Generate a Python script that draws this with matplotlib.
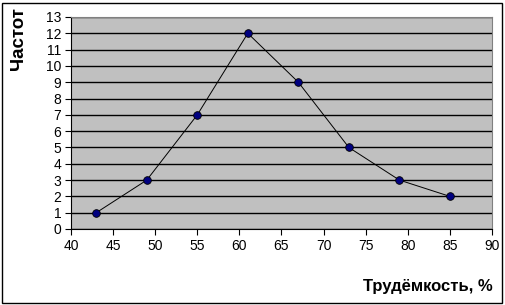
import matplotlib
matplotlib.use('Agg')
import matplotlib.pyplot as plt
from matplotlib.patches import Rectangle

# data
labour = [43, 49, 55, 61, 67, 73, 79, 85]
freq = [1, 3, 7, 12, 9, 5, 3, 2]
x_ticks = [40, 45, 50, 55, 60, 65, 70, 75, 80, 85, 90]
y_ticks = list(range(0, 14))

plt.rcParams['font.family'] = ['Liberation Sans', 'DejaVu Sans']

fig = plt.figure(figsize=(5.05, 3.05), dpi=100)
ax = fig.add_axes([71 / 505, 1 - 229 / 305, (492 - 71) / 505, (229 - 17) / 305])
ax.set_facecolor('#c0c0c0')

ax.plot(labour, freq, color='black', linewidth=0.7, marker='o', markersize=5.5,
        markerfacecolor='#000080', markeredgecolor='black', markeredgewidth=0.6, zorder=3)

ax.set_xlim(40, 90)
ax.set_ylim(0, 13)
ax.set_xticks(x_ticks)
ax.set_yticks(y_ticks)
ax.yaxis.grid(True, color='black', linewidth=1)
ax.set_axisbelow(True)
ax.tick_params(labelsize=10, length=4, width=0.8, color='black', pad=3)

for side in ['top', 'right']:
    ax.spines[side].set_color('#808080')
for side in ['left', 'bottom']:
    ax.spines[side].set_color('black')

# outer chart border
fig.patches.append(Rectangle((2 / 505, 2 / 305), 500 / 505, 300 / 305, transform=fig.transFigure,
                             fill=False, edgecolor='black', linewidth=1))

fig.text(493 / 505, 1 - 287 / 305, 'Трудёмкость, %', ha='right', va='center',
         fontsize=12, fontweight='bold')
# the original chart shows the y title truncated like this
fig.text(19 / 505, 1 - 70 / 305, 'Частот', ha='center', va='bottom', rotation=90,
         fontsize=13.5, fontweight='bold')

fig.savefig('out.png', dpi=100)
